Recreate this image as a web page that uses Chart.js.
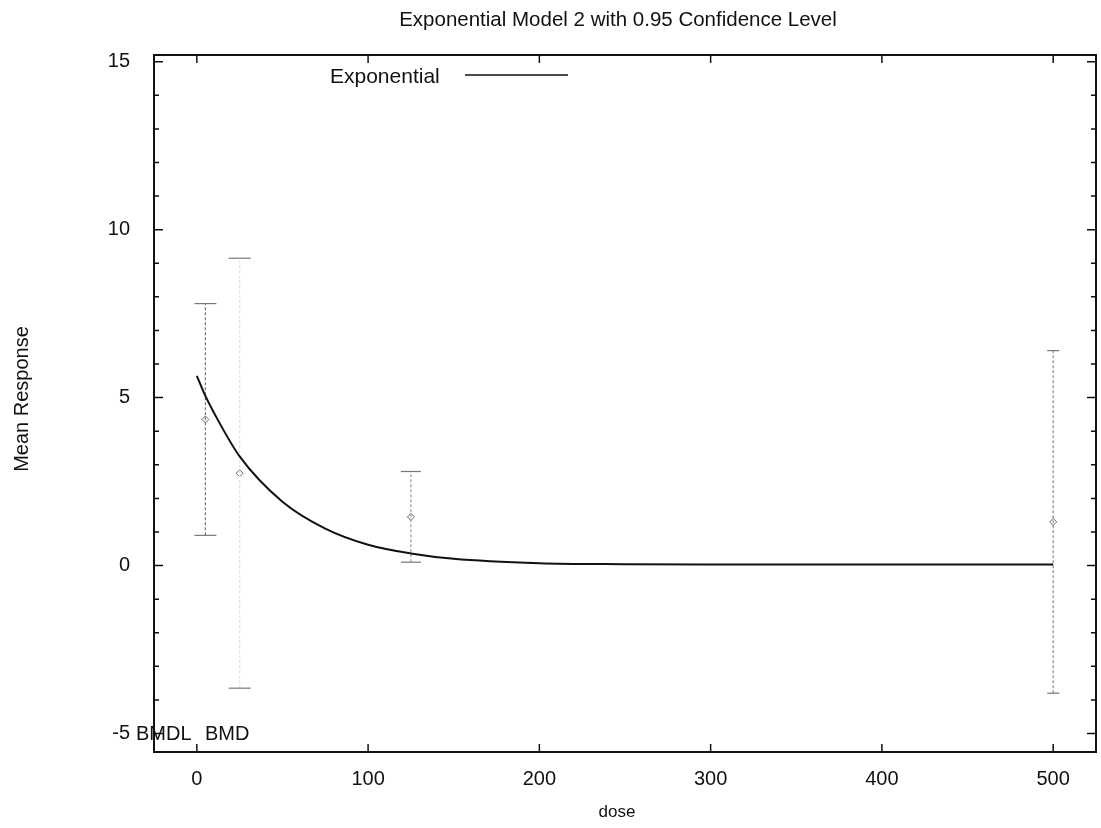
<!DOCTYPE html>
<html>
<head>
<meta charset="utf-8">
<script src="https://cdn.jsdelivr.net/npm/chart.js@4/dist/chart.umd.min.js"></script>
<style>
  html, body { margin: 0; padding: 0; background: #fff; }
  #wrap { width: 1101px; height: 828px; }
</style>
</head>
<body>
<div id="wrap"><canvas id="modelChart" width="1101" height="828"></canvas></div>
<script>
// observed dose groups (mean with confidence interval)
const doses = [5, 25, 125, 500];
const means = [4.35, 2.75, 1.45, 1.3];
const upper = [7.8, 9.15, 2.8, 6.4];
const lower = [0.9, -3.65, 0.1, -3.8];

// fitted exponential curve
const curveDose = [0, 5, 10, 25, 50, 75, 100, 125, 150, 200, 250, 300, 400, 500];
const curveResp = [5.65, 5.05, 4.55, 3.25, 1.9, 1.1, 0.62, 0.36, 0.2, 0.07, 0.04, 0.03, 0.03, 0.03];

const xTicks = [0, 100, 200, 300, 400, 500];
const yTicks = [-5, 0, 5, 10, 15];

const FONT = 'Liberation Sans, Arial, sans-serif';

// the scan shows the bars in different strengths
const barColor = ['#777', '#e2e2e2', '#999', '#8c8c8c'];
const capSize = [11, 11, 10, 6];

// one small dataset per error bar (line + caps)
const barSets = doses.map((d, i) => ({
  label: 'ci' + i,
  data: [{ x: d, y: lower[i] }, { x: d, y: upper[i] }],
  showLine: true,
  borderColor: barColor[i],
  borderWidth: 1.2,
  borderDash: [3, 2],
  pointStyle: 'line',
  pointRadius: capSize[i],
  pointBorderColor: '#777',
  pointBorderWidth: 1.2,
  pointHoverRadius: capSize[i]
}));

const framePlugin = {
  id: 'frame',
  afterDraw(chart) {
    const { ctx, chartArea: a, scales } = chart;
    ctx.save();
    // frame
    ctx.strokeStyle = '#111';
    ctx.lineWidth = 2;
    ctx.strokeRect(a.left, a.top, a.right - a.left, a.bottom - a.top);

    // inward ticks on all four sides
    ctx.lineWidth = 1.5;
    ctx.beginPath();
    for (let v = -5; v <= 15; v++) {
      const y = scales.y.getPixelForValue(v);
      const len = v % 5 === 0 ? 9 : 5;
      ctx.moveTo(a.left, y); ctx.lineTo(a.left + len, y);
      ctx.moveTo(a.right, y); ctx.lineTo(a.right - len, y);
    }
    xTicks.forEach(v => {
      const x = scales.x.getPixelForValue(v);
      ctx.moveTo(x, a.bottom); ctx.lineTo(x, a.bottom - 8);
      ctx.moveTo(x, a.top); ctx.lineTo(x, a.top + 8);
    });
    ctx.stroke();

    // texts
    ctx.fillStyle = '#111';
    ctx.font = '20.5px ' + FONT;
    ctx.textAlign = 'center';
    ctx.textBaseline = 'middle';
    ctx.fillText('Exponential Model 2 with 0.95 Confidence Level', 618, 20);

    ctx.font = '17px ' + FONT;
    ctx.fillText('dose', 617, 812);
    ctx.font = '20px ' + FONT;
    ctx.save();
    ctx.translate(22, 399);
    ctx.rotate(-Math.PI / 2);
    ctx.fillText('Mean Response', 0, 0);
    ctx.restore();

    // legend
    ctx.textAlign = 'left';
    ctx.font = '21px ' + FONT;
    ctx.fillText('Exponential', 330, 77);
    ctx.lineWidth = 1.5;
    ctx.beginPath();
    ctx.moveTo(465, 75); ctx.lineTo(568, 75);
    ctx.stroke();

    // BMD markers text
    ctx.font = '20px ' + FONT;
    ctx.fillText('BMDL', 136, 734);
    ctx.fillText('BMD', 205, 734);
    ctx.restore();
  }
};

new Chart(document.getElementById('modelChart'), {
  type: 'scatter',
  data: {
    datasets: [
      {
        label: 'Exponential',
        data: curveDose.map((d, i) => ({ x: d, y: curveResp[i] })),
        showLine: true,
        borderColor: '#111',
        borderWidth: 2,
        pointRadius: 0,
        cubicInterpolationMode: 'monotone'
      },
      ...barSets,
      {
        label: 'mean',
        data: doses.map((d, i) => ({ x: d, y: means[i] })),
        pointStyle: 'rectRot',
        pointRadius: 3.5,
        backgroundColor: '#fff',
        borderColor: '#666',
        borderWidth: 1
      }
    ]
  },
  options: {
    responsive: false,
    animation: false,
    layout: { autoPadding: false, padding: { top: 55, right: 5, left: 0, bottom: 0 } },
    plugins: {
      legend: { display: false },
      title: { display: false },
      tooltip: { enabled: false }
    },
    scales: {
      x: {
        type: 'linear',
        min: -25,
        max: 525,
        grid: { display: false },
        border: { display: false },
        afterBuildTicks: s => { s.ticks = xTicks.map(v => ({ value: v })); },
        afterFit: s => { s.height = 76; s.paddingLeft = 0; s.paddingRight = 0; },
        ticks: { color: '#111', font: { family: FONT, size: 20 }, padding: 7, maxRotation: 0 }
      },
      y: {
        min: -5.55,
        max: 15.2,
        grid: { display: false },
        border: { display: false },
        afterBuildTicks: s => { s.ticks = yTicks.map(v => ({ value: v })); },
        afterFit: s => { s.width = 154; s.paddingTop = 0; s.paddingBottom = 0; },
        ticks: { color: '#111', font: { family: FONT, size: 20 }, padding: 16 }
      }
    }
  },
  plugins: [framePlugin]
});
</script>
</body>
</html>
